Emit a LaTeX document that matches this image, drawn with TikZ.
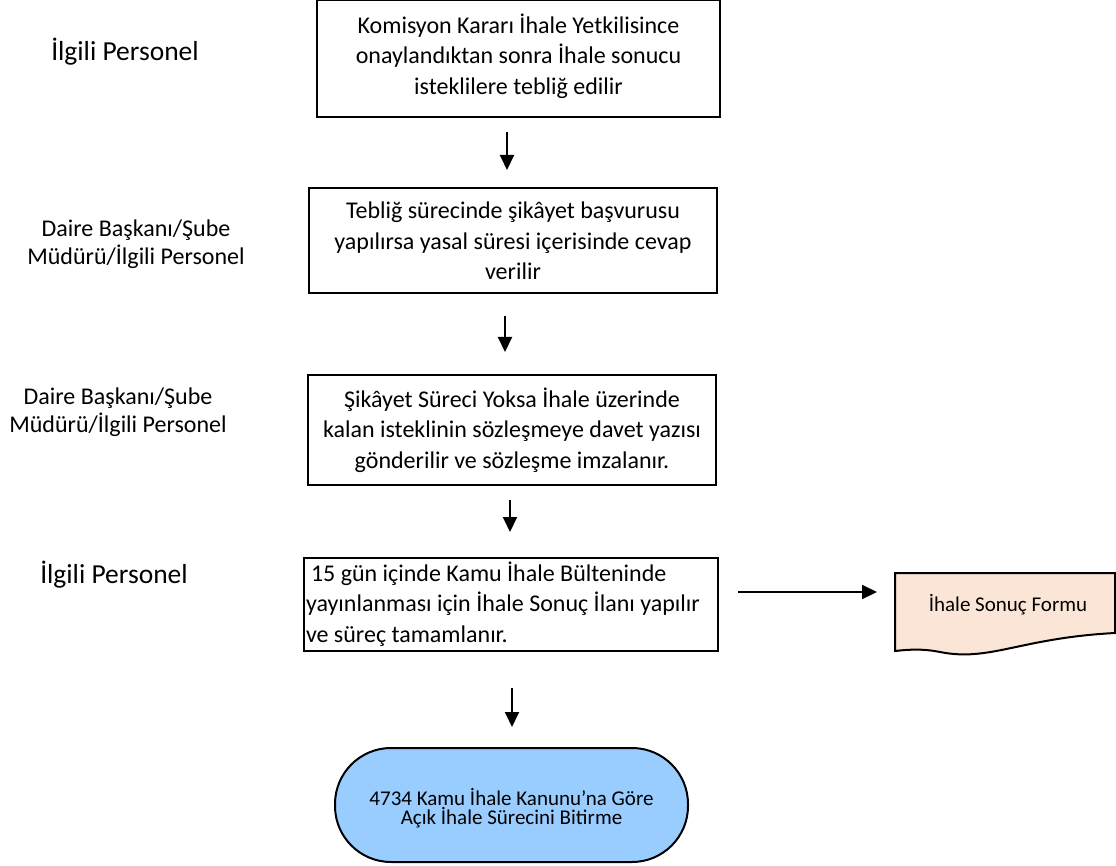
\documentclass[tikz,border=0pt]{standalone}
\usepackage{fontspec}
\setmainfont{Carlito}
\usetikzlibrary{arrows.meta}
\definecolor{termblue}{HTML}{99CCFF}
\definecolor{docpeach}{HTML}{FBE5D6}
\begin{document}
\begin{tikzpicture}[x=1pt,y=-1pt,
  box/.style={draw, line width=2pt, align=center, inner sep=0pt, font=\fontsize{24}{30.5}\selectfont},
  lbl/.style={align=center, inner sep=0pt, font=\fontsize{24}{28.5}\selectfont},
  biglbl/.style={lbl, font=\fontsize{27.5}{30}\selectfont},
  arr/.style={line width=2pt, -{Triangle[length=15pt,width=14pt]}},
  term/.style={draw, line width=2pt, fill=termblue, rounded corners=56pt, align=center, inner sep=0pt, font=\fontsize{21}{19.5}\selectfont},
  doctext/.style={inner sep=0pt, font=\fontsize{21}{22}\selectfont}]
\useasboundingbox (0,0) rectangle (1116,866);

% left labels
\node[biglbl] (l1) at (125,52) {İlgili Personel};
\node[lbl] (l2) at (136,244) {Daire Başkanı/Şube\\Müdürü/İlgili Personel};
\node[lbl] (l3) at (118,412) {Daire Başkanı/Şube\\Müdürü/İlgili Personel};
\node[biglbl] (l4) at (114,575) {İlgili Personel};

% process boxes
\node[box, minimum width=403pt, minimum height=117pt] (b1) at (518.5,59) {};
\node[box, draw=none] (b1t) at (b1.center) [yshift=3pt]
  {Komisyon Kararı İhale Yetkilisince\\onaylandıktan sonra İhale sonucu\\isteklilere tebliğ edilir};
\node[box, minimum width=408pt, minimum height=105pt] (b2) at (513,241)
  {Tebliğ sürecinde şikâyet başvurusu\\yapılırsa yasal süresi içerisinde cevap\\verilir};
\node[box, minimum width=408pt, minimum height=110pt] (b3) at (512,430)
  {Şikâyet Süreci Yoksa İhale üzerinde\\kalan isteklinin sözleşmeye davet yazısı\\gönderilir ve sözleşme imzalanır.};
\node[box, align=flush left, text width=410pt, inner xsep=2pt, minimum height=93pt] (b4) at (511,604)
  {\hspace{5pt}15 gün içinde Kamu İhale Bülteninde\\yayınlanması için İhale Sonuç İlanı yapılır\\ve süreç tamamlanır.};

% terminal
\node[term, minimum width=353pt, minimum height=114pt] (t) at (511.5,805) {};
\node[term, draw=none, fill=none, rounded corners=0pt] (tt) at (t.center) [yshift=-3pt]
  {4734 Kamu İhale Kanunu’na Göre\\Açık İhale Sürecini Bitirme};

% document shape
\draw[line width=2pt, fill=docpeach] (895,573) -- (1115,573) -- (1115,633)
  .. controls (1020,638) and (990,662) .. (940,652)
  .. controls (920,648) and (905,650) .. (895,651) -- cycle;
\node[doctext] (d) at (1008,605) {İhale Sonuç Formu};

% arrow end points
\coordinate (a1s) at (507,132); \coordinate (a1e) at (507,170);
\coordinate (a2s) at (505,316); \coordinate (a2e) at (505,352);
\coordinate (a3s) at (510,500); \coordinate (a3e) at (510,532);
\coordinate (a4s) at (512,688); \coordinate (a4e) at (512,727);
\coordinate (a5s) at (738,592); \coordinate (a5e) at (877,592);

\draw[arr] (a1s) -- (a1e);
\draw[arr] (a2s) -- (a2e);
\draw[arr] (a3s) -- (a3e);
\draw[arr] (a4s) -- (a4e);
\draw[arr] (a5s) -- (a5e);
\end{tikzpicture}
\end{document}
